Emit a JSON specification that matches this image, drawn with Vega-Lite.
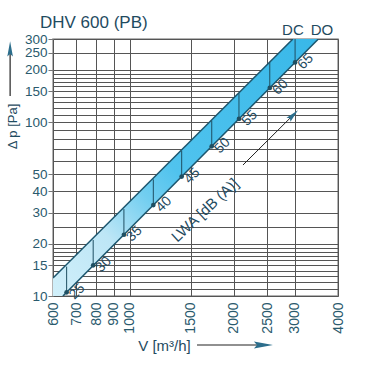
{
  "$schema": "https://vega.github.io/schema/vega-lite/v6.json",
  "width": 285,
  "height": 257,
  "autosize": {"type": "none"},
  "padding": {"left": 53, "top": 39, "right": 42, "bottom": 87},
  "background": "white",
  "config": {
    "font": "Liberation Sans",
    "view": {"stroke": "#9a9a9a", "strokeWidth": 1.5}
  },
  "title": {
    "text": "DHV 600 (PB)",
    "anchor": "start",
    "frame": "group",
    "dx": -13,
    "dy": 21,
    "offset": 12,
    "fontSize": 17,
    "fontWeight": "normal",
    "color": "#1f4b5f",
    "font": "Liberation Sans"
  },
  "datasets": {
    "band": [
      {"V": 600, "lo": 8.76, "hi": 12.7},
      {"V": 3548, "lo": 306, "hi": 428}
    ],
    "lines": [
      {"s": "DC", "V": 600, "p": 12.7},
      {"s": "DC", "V": 2963, "p": 300},
      {"s": "DO", "V": 641, "p": 10},
      {"s": "DO", "V": 3510, "p": 300}
    ],
    "levels": [
      {"L": "25", "V": 657, "lo": 10.5, "hi": 14.75},
      {"L": "30", "V": 784, "lo": 15, "hi": 21},
      {"L": "35", "V": 962, "lo": 22.5, "hi": 31.6},
      {"L": "40", "V": 1170, "lo": 33.3, "hi": 46.8},
      {"L": "45", "V": 1413, "lo": 48.6, "hi": 68.2},
      {"L": "50", "V": 1726, "lo": 72.5, "hi": 101.8},
      {"L": "55", "V": 2069, "lo": 104.2, "hi": 146.3},
      {"L": "60", "V": 2540, "lo": 157, "hi": 220.5},
      {"L": "65", "V": 3006, "lo": 220, "hi": 300}
    ],
    "tags": [
      {"t": "DC", "V": 2963, "p": 300},
      {"t": "DO", "V": 3596, "p": 300}
    ],
    "lwaText": [{"t": "LWA [dB (A)]", "V": 1650, "p": 31.2}],
    "lwaArrow": [{"V": 2125, "p": 56.6}, {"V": 2964, "p": 109.4}],
    "lwaHead": [{"V": 2964, "p": 109.4}],
    "yArrow": [{"V": 451, "p": 141}, {"V": 451, "p": 262}],
    "yHead": [{"V": 451, "p": 262}],
    "xArrow": [{"V": 1565, "p": 5.23}, {"V": 2427, "p": 5.23}],
    "xHead": [{"V": 2427, "p": 5.23}]
  },
  "layer": [
    {
      "data": {"name": "band"},
      "mark": {
        "type": "area",
        "clip": true,
        "color": {
          "gradient": "linear",
          "x1": 0, "y1": 1, "x2": 1, "y2": 0,
          "stops": [
            {"offset": 0, "color": "#d2f0fa"},
            {"offset": 0.22, "color": "#bde6f6"},
            {"offset": 0.36, "color": "#72cef0"},
            {"offset": 0.46, "color": "#50c3ee"},
            {"offset": 1, "color": "#36b7e8"}
          ]
        }
      },
      "encoding": {
        "x": {
          "field": "V", "type": "quantitative",
          "scale": {"type": "log", "domain": [600, 4000], "nice": false},
          "axis": {
            "orient": "bottom",
            "values": [600, 700, 800, 900, 1000, 1500, 2000, 2500, 3000, 4000],
            "format": "d",
            "grid": true,
            "gridColor": "#555555",
            "gridWidth": 1,
            "gridOpacity": 1,
            "ticks": false,
            "domain": false,
            "labelAngle": -90,
            "labelPadding": 6,
            "labelFontSize": 14,
            "labelColor": "#2a5a6d",
            "labelOverlap": false,
            "labelFlush": false,
            "title": "V [m³/h]",
            "titleX": 111,
            "titleY": 49,
            "titleAlign": "center",
            "titleBaseline": "middle",
            "titleFontSize": 15,
            "titleFontWeight": "normal",
            "titleColor": "#1f4b5f"
          }
        },
        "y": {
          "field": "lo", "type": "quantitative",
          "scale": {"type": "log", "domain": [10, 300], "nice": false},
          "axis": {
            "orient": "left",
            "values": [10, 11, 12, 13, 14, 15, 16, 17, 18, 19, 20, 25, 30, 40, 50, 60, 70, 80, 90, 100, 110, 120, 130, 140, 150, 160, 170, 180, 190, 200, 250, 300],
            "format": "d",
            "labelExpr": "indexof([10,15,20,30,40,50,100,150,200,250,300], datum.value) >= 0 ? datum.label : ''",
            "grid": true,
            "gridColor": "#555555",
            "gridWidth": 1,
            "gridOpacity": 1,
            "ticks": true,
            "tickSize": 5,
            "tickColor": "#777777",
            "tickOpacity": {"condition": {"test": "indexof([10,15,20,30,40,50,100,150,200,250,300], datum.value) >= 0", "value": 1}, "value": 0},
            "domain": false,
            "labelPadding": 1,
            "labelFontSize": 13.5,
            "labelColor": "#2a5a6d",
            "labelOverlap": false,
            "labelFlush": false,
            "title": "Δ p [Pa]",
            "titleX": -41,
            "titleY": 87,
            "titleAlign": "center",
            "titleBaseline": "middle",
            "titleFontSize": 13,
            "titleFontWeight": "normal",
            "titleColor": "#1f4b5f"
          }
        },
        "y2": {"field": "hi"}
      }
    },
    {
      "data": {"name": "lines"},
      "mark": {"type": "line", "clip": true, "color": "#1c566e", "strokeWidth": 1.5},
      "encoding": {
        "x": {"field": "V", "type": "quantitative"},
        "y": {"field": "p", "type": "quantitative"},
        "detail": {"field": "s"}
      }
    },
    {
      "data": {"name": "levels"},
      "mark": {"type": "rule", "clip": true, "color": "#1f4f62", "strokeWidth": 1},
      "encoding": {
        "x": {"field": "V", "type": "quantitative"},
        "y": {"field": "lo", "type": "quantitative"},
        "y2": {"field": "hi"}
      }
    },
    {
      "data": {"name": "levels"},
      "mark": {"type": "point", "filled": true, "color": "#1f4f62", "size": 22, "opacity": 1},
      "encoding": {
        "x": {"field": "V", "type": "quantitative"},
        "y": {"field": "lo", "type": "quantitative"}
      }
    },
    {
      "data": {"name": "levels"},
      "mark": {"type": "text", "angle": -45, "align": "center", "baseline": "middle", "dx": 8, "dy": 7, "fontSize": 14, "color": "#1f4b5f"},
      "encoding": {
        "x": {"field": "V", "type": "quantitative"},
        "y": {"field": "lo", "type": "quantitative"},
        "text": {"field": "L"}
      }
    },
    {
      "data": {"name": "tags"},
      "mark": {"type": "text", "align": "center", "baseline": "middle", "dy": -9, "fontSize": 15, "color": "#1f4b5f"},
      "encoding": {
        "x": {"field": "V", "type": "quantitative"},
        "y": {"field": "p", "type": "quantitative"},
        "text": {"field": "t"}
      }
    },
    {
      "data": {"name": "lwaText"},
      "mark": {"type": "text", "angle": -43, "align": "center", "baseline": "middle", "fontSize": 15, "color": "#1f4b5f"},
      "encoding": {
        "x": {"field": "V", "type": "quantitative"},
        "y": {"field": "p", "type": "quantitative"},
        "text": {"field": "t"}
      }
    },
    {
      "data": {"name": "lwaArrow"},
      "mark": {"type": "line", "color": "#222222", "strokeWidth": 1},
      "encoding": {
        "x": {"field": "V", "type": "quantitative"},
        "y": {"field": "p", "type": "quantitative"}
      }
    },
    {
      "data": {"name": "lwaHead"},
      "mark": {"type": "point", "filled": true, "color": "#2c6e8c", "opacity": 1, "size": 200, "angle": 45, "shape": "M0,-1L0.4,0.9L0,0.6L-0.4,0.9Z"},
      "encoding": {
        "x": {"field": "V", "type": "quantitative"},
        "y": {"field": "p", "type": "quantitative"}
      }
    },
    {
      "data": {"name": "yArrow"},
      "mark": {"type": "line", "color": "#222222", "strokeWidth": 1.2},
      "encoding": {
        "x": {"field": "V", "type": "quantitative"},
        "y": {"field": "p", "type": "quantitative"}
      }
    },
    {
      "data": {"name": "yHead"},
      "mark": {"type": "point", "filled": true, "color": "#2c6e8c", "opacity": 1, "size": 256, "shape": "M0,-1L0.35,0.9L0,0.6L-0.35,0.9Z"},
      "encoding": {
        "x": {"field": "V", "type": "quantitative"},
        "y": {"field": "p", "type": "quantitative"}
      }
    },
    {
      "data": {"name": "xArrow"},
      "mark": {"type": "line", "color": "#222222", "strokeWidth": 1.2},
      "encoding": {
        "x": {"field": "V", "type": "quantitative"},
        "y": {"field": "p", "type": "quantitative"}
      }
    },
    {
      "data": {"name": "xHead"},
      "mark": {"type": "point", "filled": true, "color": "#2c6e8c", "opacity": 1, "size": 400, "shape": "M1,0L-0.9,-0.35L-0.6,0L-0.9,0.35Z"},
      "encoding": {
        "x": {"field": "V", "type": "quantitative"},
        "y": {"field": "p", "type": "quantitative"}
      }
    }
  ]
}
